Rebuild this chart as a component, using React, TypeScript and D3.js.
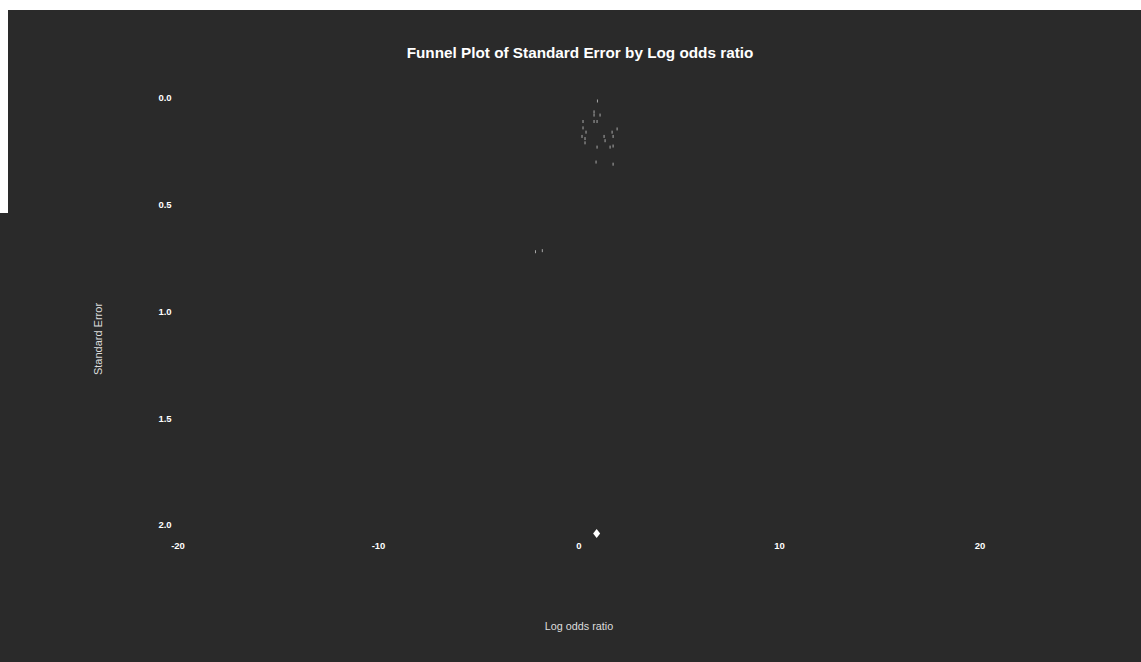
import React from "react";
import * as d3 from "d3";

const studyLogOR = [0.92, 0.75, 0.75, 1.05, 0.2, 0.75, 0.9, 0.2, 0.35, 0.15, 0.3, 1.9, 1.65, 1.7, 1.25, 1.3, 0.3, 0.9, 1.55, 1.7, 0.85, 1.7, -2.17, -1.83];
const studySE = [0.014, 0.065, 0.08, 0.08, 0.11, 0.11, 0.11, 0.14, 0.16, 0.18, 0.19, 0.145, 0.16, 0.18, 0.18, 0.2, 0.21, 0.23, 0.23, 0.225, 0.3, 0.31, 0.72, 0.715];
const summaryLogOR = 0.88;
const summarySE = 2.04;
const xTicks = [-20, -10, 0, 10, 20];
const yTicks = [0, 0.5, 1, 1.5, 2];

const W = 1141;
const H = 662;
const FONT = "'Liberation Sans', Arial, sans-serif";

export default function App() {
  const x = d3.scaleLinear().domain([-20, 20]).range([178, 980]);
  const y = d3.scaleLinear().domain([0, 2]).range([98, 525]);
  const sx = x(summaryLogOR);
  const sy = y(summarySE);
  const diamond = `M${sx},${sy - 4.5}L${sx + 3.5},${sy}L${sx},${sy + 4.5}L${sx - 3.5},${sy}Z`;
  return (
    <svg width={W} height={H} style={{ position: "absolute", left: 0, top: 0, display: "block" }}>
      <rect x={0} y={0} width={W} height={H} fill="#ffffff" />
      <rect x={8} y={10} width={W - 8} height={H - 10} fill="#2a2a2a" />
      <rect x={0} y={213} width={8} height={H - 213} fill="#2a2a2a" />
      <text x={580} y={58} textAnchor="middle" fill="#ffffff" fontFamily={FONT} fontWeight="bold" fontSize={15.3}>
        Funnel Plot of Standard Error by Log odds ratio
      </text>
      {yTicks.map((t) => (
        <text key={"y" + t} x={165} y={y(t)} dy="0.35em" textAnchor="middle" fill="#ffffff" fontFamily={FONT} fontWeight="bold" fontSize={9.5}>
          {d3.format(".1f")(t)}
        </text>
      ))}
      {xTicks.map((t) => (
        <text key={"x" + t} x={x(t)} y={546} dy="0.35em" textAnchor="middle" fill="#ffffff" fontFamily={FONT} fontWeight="bold" fontSize={9.5}>
          {t < 0 ? "-" + Math.abs(t) : String(t)}
        </text>
      ))}
      <text transform={`translate(102,339) rotate(-90)`} textAnchor="middle" fill="#dddddd" fontFamily={FONT} fontSize={11}>
        Standard Error
      </text>
      <text x={579} y={630} textAnchor="middle" fill="#dddddd" fontFamily={FONT} fontSize={10.8}>
        Log odds ratio
      </text>
      {studyLogOR.map((v, i) => (
        <rect key={i} x={x(v) - 0.5} y={y(studySE[i]) - 1.5} width={1} height={3} fill="#a8a8a8" />
      ))}
      <path d={diamond} fill="#ffffff" />
    </svg>
  );
}
